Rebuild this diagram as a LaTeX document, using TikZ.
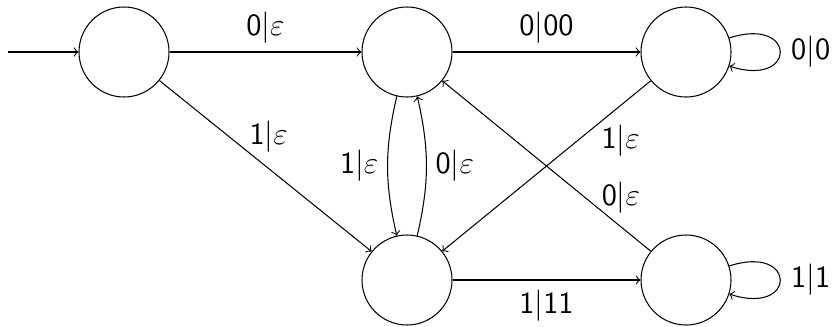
\documentclass[tikz,border=0pt]{standalone}
\usetikzlibrary{arrows}
\begin{document}
\begin{tikzpicture}[x=0.382pt,y=0.382pt,
    state/.style={draw,circle,minimum size=90*0.382pt,inner sep=0pt},
    trans/.style={->,line width=0.4pt},
    every node/.append style={font=\sffamily\fontsize{11.8}{14}\selectfont}]
  \useasboundingbox (0,0) rectangle (836,-326);
  % states
  \node[state] (a) at (124,-52) {};
  \node[state] (b) at (407,-52) {};
  \node[state] (c) at (686,-52) {};
  \node[state] (d) at (407,-280) {};
  \node[state] (e) at (686,-280) {};
  \coordinate (start) at (8,-52);
  % transitions
  \draw[trans] (start) -- (a);
  \draw[trans] (a) -- node[above,inner sep=3pt] {0$|\varepsilon$} (b);
  \draw[trans] (b) -- node[above,inner sep=3pt] {0$|$00} (c);
  \draw[trans] (a) -- node[pos=0.41,above right,inner sep=1pt,yshift=-2pt] {1$|\varepsilon$} (d);
  \draw[trans] (b) to[bend right=13] node[left] {1$|\varepsilon$} (d);
  \draw[trans] (d) to[bend right=13] node[right] {0$|\varepsilon$} (b);
  \draw[trans] (c) -- node[pos=0.235,below right,inner sep=1.2pt,xshift=-1.5pt] {1$|\varepsilon$} (d);
  \draw[trans] (e) -- node[pos=0.25,above right,inner sep=1pt,yshift=-3pt] {0$|\varepsilon$} (b);
  \draw[trans] (d) -- node[below,inner sep=3.5pt] {1$|$11} (e);
  \draw[trans] (c.18) to[out=18,in=-18,looseness=6.5] node[right,inner sep=4pt] {0$|$0} (c.-18);
  \draw[trans] (e.18) to[out=18,in=-18,looseness=6.5] node[right,inner sep=4pt] {1$|$1} (e.-18);
\end{tikzpicture}
\end{document}
